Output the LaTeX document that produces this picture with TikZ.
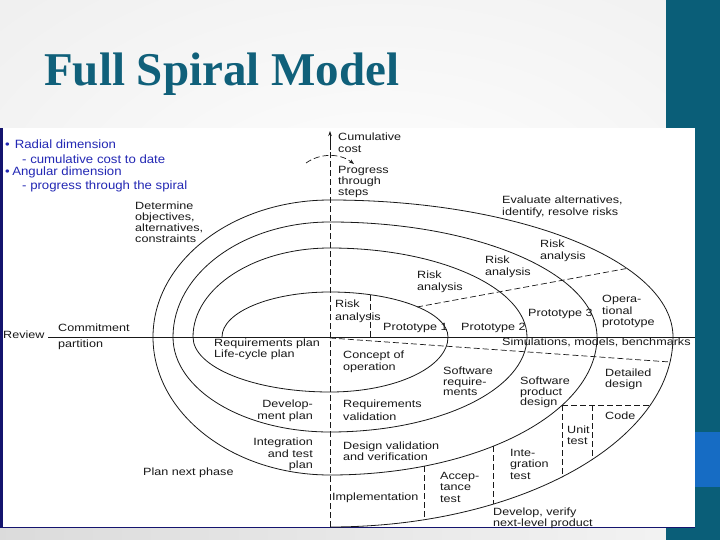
\documentclass[tikz,border=0pt]{standalone}
\usepackage{fontspec}
\usetikzlibrary{arrows.meta}
\newfontfamily\dfont{Liberation Sans}[FakeStretch=1.2]
\newfontfamily\bfontx{Liberation Sans}[FakeStretch=1.1]
\newfontfamily\tfontx{Liberation Serif}
\definecolor{titlecol}{RGB}{16,96,122}
\definecolor{barcol}{RGB}{10,94,120}
\definecolor{blockcol}{RGB}{22,108,196}
\definecolor{navycol}{RGB}{20,20,110}
\definecolor{bluetxt}{RGB}{35,40,180}
\definecolor{inkcol}{RGB}{25,25,25}
\tikzset{
  lbl/.style={font=\dfont\fontsize{10.5}{11.5}\selectfont, inner sep=0pt, anchor=north west, align=left, text=inkcol},
  lsp/.style={font=\dfont\fontsize{10.5}{#1}\selectfont},
  rlbl/.style={lbl, anchor=north east, align=right},
  bl/.style={font=\bfontx\fontsize{12}{14}\selectfont, text=bluetxt, inner sep=0pt, anchor=base west},
  spiralline/.style={draw=inkcol, line width=0.8pt},
  dsh/.style={draw=inkcol, line width=0.7pt, dash pattern=on 6pt off 3pt},
  axisline/.style={draw=inkcol, line width=0.7pt},
  tipx/.style={-{Stealth[length=5pt,width=3.5pt]}}
}
\begin{document}
\begin{tikzpicture}[x=1pt,y=1pt]
\useasboundingbox (0,0) rectangle (720,-540);
% slide background
\fill[gray!12] (0,0) rectangle (720,-540);
\shade[inner color=white, outer color=gray!12] (380,-230) ellipse [x radius=520pt, y radius=330pt];
\shade[left color=gray!28, right color=gray!10] (0,-528) rectangle (666,-540);
\fill[barcol] (666,0) rectangle (720,-540);
\fill[blockcol] (667,-432) rectangle (720,-487);
% title
\node[font=\tfontx\bfseries\fontsize{47}{50}\selectfont, text=titlecol, anchor=base west, inner sep=0pt] (title) at (44,-86) {Full Spiral Model};
% diagram canvas
\fill[white] (0,-128) rectangle (695,-528);
\fill[navycol] (0,-128) rectangle (3,-528);
\draw[navycol, line width=1.4pt] (0,-527.3) -- (695,-527.3);

% blue notes
\node[bl] (n1) at (5,-149) {\textbullet\hspace{5pt}Radial dimension};
\node[bl] (n2) at (22,-164) {- cumulative cost to date};
\node[bl] (n3) at (5,-176) {\textbullet\hspace{2.5pt}Angular dimension};
\node[bl] (n4) at (22,-190) {- progress through the spiral};

% axes
\coordinate (hl) at (48,-337);
\coordinate (hr) at (695,-337);
\draw[axisline] (hl) -- (hr);
\coordinate (vb) at (330,-527);
\coordinate (vm) at (330,-150);
\coordinate (vt) at (330,-131);
\draw[dsh] (vb) -- (vm);
\draw[axisline, tipx] (vm) -- (vt);
\coordinate (pa) at (306,-163);
\coordinate (pb) at (354,-164);
\draw[dsh, tipx] (pa) .. controls (320,-153) and (340,-153) .. (pb);

% spiral
\draw[spiralline] (222,-337)
  arc[start angle=180,end angle=90,x radius=108pt,y radius=45pt]
  arc[start angle=90,end angle=0,x radius=118pt,y radius=45pt]
  arc[start angle=0,end angle=-90,x radius=118pt,y radius=55pt]
  arc[start angle=270,end angle=180,x radius=137pt,y radius=55pt]
  arc[start angle=180,end angle=90,x radius=137pt,y radius=89pt]
  arc[start angle=90,end angle=0,x radius=197pt,y radius=89pt]
  arc[start angle=0,end angle=-90,x radius=197pt,y radius=95pt]
  arc[start angle=270,end angle=180,x radius=157pt,y radius=95pt]
  arc[start angle=180,end angle=90,x radius=157pt,y radius=115pt]
  arc[start angle=90,end angle=0,x radius=267pt,y radius=115pt]
  arc[start angle=0,end angle=-90,x radius=267pt,y radius=138pt]
  arc[start angle=270,end angle=180,x radius=177pt,y radius=138pt]
  arc[start angle=180,end angle=90,x radius=177pt,y radius=137pt]
  arc[start angle=90,end angle=0,x radius=343pt,y radius=137pt]
  arc[start angle=0,end angle=-90,x radius=343pt,y radius=190pt];

% dashed partitions
\draw[dsh] (417,-307) -- (626,-268.6);
\draw[dsh] (330,-338) -- (670,-362);
\draw[dsh] (370,-294.7) -- (370,-337);
\draw[dsh] (562,-405) -- (650,-405);
\draw[dsh] (562,-405) -- (562,-477);
\draw[dsh] (592,-405) -- (592,-459.6);
\draw[dsh] (493,-446.3) -- (493,-504);
\draw[dsh] (424,-466) -- (424,-519.8);

% labels
\node[lbl, lsp=12] (cum) at (338,-133) {Cumulative\\cost};
\node[lbl, lsp=11] (prog) at (338,-166) {Progress\\through\\steps};
\node[lbl, lsp=11.5] (eval) at (502,-196) {Evaluate alternatives,\\identify, resolve risks};
\node[lbl, lsp=12] (riskA) at (540,-240) {Risk\\analysis};
\node[lbl, lsp=12] (riskB) at (485,-256) {Risk\\analysis};
\node[lbl, lsp=11.5] (riskC) at (417,-271) {Risk\\analysis};
\node[lbl, lsp=13] (riskD) at (335,-300) {Risk\\analysis};
\node[lbl] (proto1) at (383,-323) {Prototype 1};
\node[lbl] (proto2) at (461,-323) {Prototype 2};
\node[lbl] (proto3) at (528,-309) {Prototype 3};
\node[lbl, lsp=11.5] (oper) at (602,-295) {Opera-\\tional\\prototype};
\node[lbl] (sim) at (502,-338) {Simulations, models, benchmarks};
\node[lbl, lsp=12] (concept) at (343,-351) {Concept of\\operation};
\node[lbl, lsp=10.5] (swreq) at (443,-367) {Software\\require-\\ments};
\node[lbl, lsp=10.5] (swprod) at (520,-377) {Software\\product\\design};
\node[lbl, lsp=11] (detail) at (605,-369) {Detailed\\design};
\node[lbl] (code) at (605,-412) {Code};
\node[lbl, lsp=13] (reqval) at (343,-400) {Requirements\\validation};
\node[lbl, lsp=11] (unit) at (567,-426) {Unit\\test};
\node[lbl, lsp=10.5] (desval) at (343,-442) {Design validation\\and verification};
\node[lbl, lsp=11.5] (integ) at (510,-449) {Inte-\\gration\\test};
\node[lbl, lsp=11.5] (accep) at (440,-472) {Accep-\\tance\\test};
\node[lbl] (impl) at (332,-493) {Implementation};
\node[lbl, lsp=10.5] (devver) at (493,-508) {Develop, verify\\next-level product};
\node[lbl] (review) at (3,-331) {Review};
\node[lbl, lsp=16] (commit) at (58,-324) {Commitment\\partition};
\node[lbl, lsp=11] (reqplan) at (214,-339) {Requirements plan\\Life-cycle plan};
\node[rlbl, lsp=12] (devplan) at (313,-400) {Develop-\\ment plan};
\node[rlbl, lsp=11.5] (intplan) at (313,-438) {Integration\\and test\\plan};
\node[lbl] (plannext) at (143,-468) {Plan next phase};
\node[lbl, lsp=11] (determ) at (135,-202) {Determine\\objectives,\\alternatives,\\constraints};
\end{tikzpicture}
\end{document}
